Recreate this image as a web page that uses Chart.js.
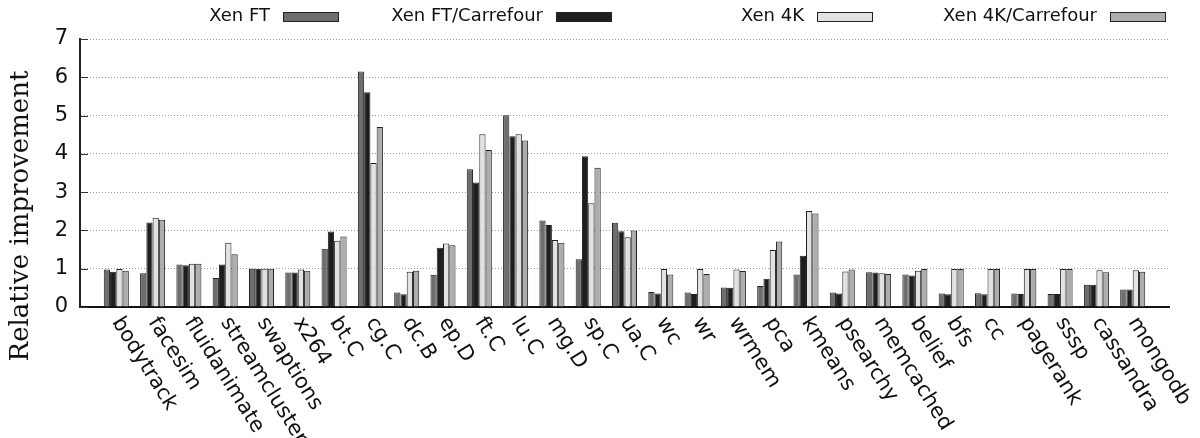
<!DOCTYPE html>
<html>
<head>
<meta charset="utf-8">
<script src="https://cdn.jsdelivr.net/npm/chart.js@4.4.1/dist/chart.umd.min.js"></script>
<style>
  html, body { margin: 0; padding: 0; background: #fff; }
  #wrap { width: 1200px; height: 438px; position: relative; }
</style>
</head>
<body>
<div id="wrap"><canvas id="chart"></canvas></div>
<script>
// ---------------------- DATA ------------------------
const categories = [
  "bodytrack", "facesim", "fluidanimate", "streamcluster", "swaptions", "x264",
  "bt.C", "cg.C", "dc.B", "ep.D", "ft.C", "lu.C", "mg.D", "sp.C", "ua.C",
  "wc", "wr", "wrmem", "pca", "kmeans", "psearchy", "memcached", "belief",
  "bfs", "cc", "pagerank", "sssp", "cassandra", "mongodb"
];

const xenFT = [0.98, 0.88, 1.11, 0.76, 1.00, 0.90, 1.52, 6.15, 0.38, 0.84, 3.60, 5.01, 2.26, 1.25, 2.20,
  0.39, 0.38, 0.51, 0.55, 0.85, 0.38, 0.91, 0.85, 0.35, 0.36, 0.35, 0.34, 0.58, 0.46];
const xenFTCarrefour = [0.92, 2.21, 1.09, 1.11, 1.00, 0.90, 1.97, 5.61, 0.33, 1.55, 3.25, 4.46, 2.14, 3.94, 1.98,
  0.35, 0.34, 0.50, 0.74, 1.34, 0.35, 0.90, 0.82, 0.33, 0.33, 0.34, 0.34, 0.58, 0.46];
const xen4K = [0.99, 2.33, 1.13, 1.68, 1.00, 0.98, 1.73, 3.76, 0.92, 1.66, 4.51, 4.51, 1.75, 2.71, 1.82,
  0.99, 0.99, 0.98, 1.49, 2.51, 0.93, 0.88, 0.95, 0.99, 0.99, 0.99, 0.99, 0.96, 0.96];
const xen4KCarrefour = [0.95, 2.28, 1.13, 1.38, 1.00, 0.95, 1.84, 4.70, 0.95, 1.61, 4.10, 4.35, 1.68, 3.64, 2.00,
  0.85, 0.86, 0.94, 1.71, 2.44, 0.98, 0.86, 0.99, 0.99, 0.99, 0.99, 0.99, 0.91, 0.92];

const seriesNames = ["Xen FT", "Xen FT/Carrefour", "Xen 4K", "Xen 4K/Carrefour"];
const yTicks = [0, 1, 2, 3, 4, 5, 6, 7];

// ---------------------- STYLE ------------------------
const fills = ["#6e6e6e", "#1e1e1e", "#e2e2e2", "#adadad"];
const tickFont = "21px 'DejaVu Sans'";

// empty slot on each side, like the gnuplot x range
const labels = ["", ...categories, ""];
const pad = (arr) => [null, ...arr, null];

function makeSet(name, values, color) {
  return {
    label: name,
    data: pad(values),
    backgroundColor: color,
    borderColor: "#222",
    borderWidth: 1,
    borderSkipped: "bottom",
    categoryPercentage: 0.69,
    barPercentage: 1.0,
  };
}

// ---------------------- EXTRA DRAWING ------------------------
const decorations = {
  id: "decorations",
  afterDraw(chart) {
    const ctx = chart.ctx;
    const area = chart.chartArea;
    const xs = chart.scales.x;
    const ys = chart.scales.y;

    ctx.save();

    // inward ticks on y axis
    ctx.strokeStyle = "#333";
    ctx.lineWidth = 1;
    yTicks.forEach((v) => {
      const y = Math.round(ys.getPixelForValue(v)) + 0.5;
      ctx.beginPath();
      ctx.moveTo(area.left, y);
      ctx.lineTo(area.left + 8, y);
      ctx.stroke();
    });

    // rotated category labels
    ctx.fillStyle = "#111";
    ctx.font = tickFont;
    ctx.textAlign = "left";
    ctx.textBaseline = "middle";
    categories.forEach((name, i) => {
      const x = xs.getPixelForValue(i + 1);
      ctx.save();
      ctx.translate(x, area.bottom + 12);
      ctx.rotate((58 * Math.PI) / 180);
      ctx.fillText(name, 0, 0);
      ctx.restore();
    });

    // y axis title
    ctx.save();
    ctx.font = "26px 'DejaVu Serif'";
    ctx.textAlign = "center";
    ctx.textBaseline = "alphabetic";
    ctx.translate(28, 216);
    ctx.rotate(-Math.PI / 2);
    ctx.fillText("Relative improvement", 0, 0);
    ctx.restore();

    // legend: text then sample box, gnuplot style
    const boxRight = [339, 612, 873, 1166];
    ctx.font = "18px 'DejaVu Sans'";
    ctx.textAlign = "right";
    ctx.textBaseline = "middle";
    chart.data.datasets.forEach((ds, i) => {
      const bx = boxRight[i] - 56;
      ctx.fillStyle = ds.backgroundColor;
      ctx.fillRect(bx, 12, 56, 10);
      ctx.strokeStyle = "#222";
      ctx.strokeRect(bx + 0.5, 12.5, 55, 9);
      ctx.fillStyle = "#111";
      ctx.fillText(ds.label, bx - 13, 16);
    });

    ctx.restore();
  },
};

// ---------------------- CHART ------------------------
const ctx = document.getElementById("chart").getContext("2d");
new Chart(ctx, {
  type: "bar",
  data: {
    labels: labels,
    datasets: [
      makeSet(seriesNames[0], xenFT, fills[0]),
      makeSet(seriesNames[1], xenFTCarrefour, fills[1]),
      makeSet(seriesNames[2], xen4K, fills[2]),
      makeSet(seriesNames[3], xen4KCarrefour, fills[3]),
    ],
  },
  options: {
    responsive: true,
    maintainAspectRatio: false,
    animation: false,
    layout: { padding: { left: 0, right: 31, top: 39, bottom: 0 } },
    plugins: {
      legend: { display: false },
      tooltip: { enabled: false },
    },
    scales: {
      x: {
        offset: false,
        grid: { display: false },
        border: { display: true, color: "#111", width: 2 },
        ticks: { display: false },
        afterFit(scale) { scale.height = 131; },
      },
      y: {
        min: 0,
        max: 7,
        afterBuildTicks(scale) { scale.ticks = yTicks.map((v) => ({ value: v })); },
        ticks: {
          font: { family: "DejaVu Sans", size: 21 },
          color: "#111",
          padding: 12,
        },
        grid: {
          color: "#9a9a9a",
          lineWidth: 1,
          drawTicks: false,
        },
        border: { display: true, color: "#222", width: 2, dash: [1, 2] },
        afterFit(scale) { scale.width = 80; },
      },
    },
  },
  plugins: [decorations],
});
</script>
</body>
</html>
